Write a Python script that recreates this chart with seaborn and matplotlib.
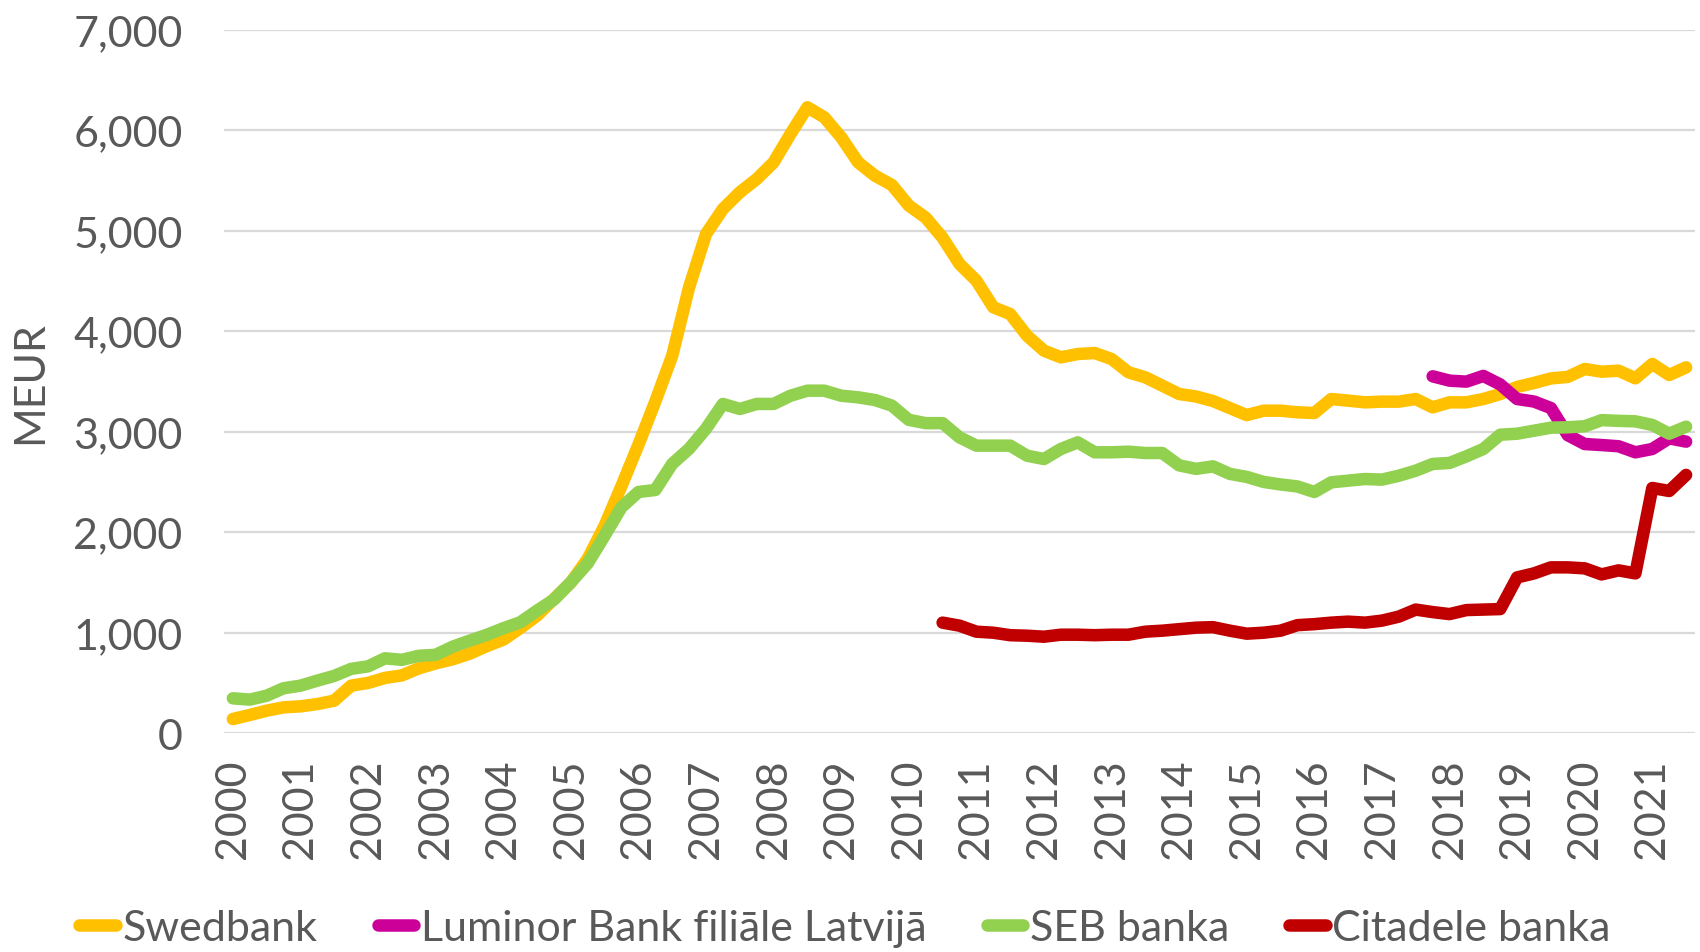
import numpy as np
import pandas as pd
import seaborn as sns
import matplotlib.pyplot as plt
from matplotlib.lines import Line2D
from matplotlib.ticker import FuncFormatter

# quarterly data, 2000Q1 .. 2021Q3 (MEUR)
years = ["2000", "2001", "2002", "2003", "2004", "2005", "2006", "2007", "2008", "2009", "2010",
         "2011", "2012", "2013", "2014", "2015", "2016", "2017", "2018", "2019", "2020", "2021"]

swedbank = [141, 181, 224, 257, 267, 290, 324, 473, 500, 550, 575, 645, 695, 735, 790, 865,
            930, 1045, 1170, 1335, 1500, 1735, 2065, 2460, 2870, 3300, 3756, 4437, 4967, 5216,
            5382, 5514, 5680, 5962, 6228, 6128, 5929, 5680, 5547, 5455, 5250, 5130, 4930, 4669,
            4503, 4238, 4171, 3955, 3806, 3740, 3773, 3783, 3723, 3591, 3541, 3458, 3375, 3350,
            3305, 3235, 3165, 3209, 3209, 3193, 3186, 3325, 3309, 3292, 3299, 3299, 3325, 3242,
            3292, 3292, 3325, 3375, 3445, 3485, 3530, 3545, 3624, 3597, 3607, 3531, 3674, 3564,
            3640]

seb = [347, 334, 373, 447, 473, 523, 570, 640, 665, 745, 730, 770, 780, 860, 920, 977,
       1044, 1103, 1219, 1329, 1501, 1690, 1965, 2248, 2400, 2420, 2680, 2830, 3030, 3276,
       3226, 3276, 3276, 3358, 3408, 3408, 3358, 3342, 3315, 3259, 3118, 3085, 3085, 2944,
       2861, 2861, 2861, 2761, 2728, 2828, 2894, 2795, 2795, 2801, 2788, 2788, 2665, 2630,
       2655, 2580, 2550, 2500, 2475, 2455, 2400, 2496, 2513, 2529, 2523, 2562, 2612, 2679,
       2689, 2755, 2828, 2970, 2980, 3010, 3040, 3044, 3054, 3115, 3108, 3103, 3067, 2980,
       3050]

# Luminor starts 2017Q4, Citadele starts 2010Q3
luminor_start = 71
luminor = [3551, 3508, 3498, 3555, 3470, 3325, 3300, 3235, 2965, 2877, 2867, 2855, 2795,
           2828, 2934, 2901]

citadele_start = 42
citadele = [1100, 1070, 1010, 1000, 975, 970, 960, 980, 980, 975, 980, 980, 1010, 1020,
            1035, 1050, 1055, 1020, 990, 1000, 1020, 1075, 1085, 1100, 1110, 1100, 1120, 1160,
            1230, 1205, 1185, 1225, 1230, 1235, 1550, 1590, 1650, 1650, 1640, 1580, 1620, 1590,
            2440, 2410, 2570]

names = ["Swedbank", "Luminor Bank filiāle Latvijā", "SEB banka", "Citadele banka"]
colors = ["#FFC000", "#CC0099", "#92D050", "#C00000"]

frames = []
for name, vals, start in [(names[0], swedbank, 0), (names[1], luminor, luminor_start),
                          (names[2], seb, 0), (names[3], citadele, citadele_start)]:
    frames.append(pd.DataFrame({"pos": np.arange(start, start + len(vals)),
                                "value": vals, "bank": name}))
df = pd.concat(frames, ignore_index=True)

sns.set_theme(style="white")
plt.rcParams["font.family"] = ["Lato", "DejaVu Sans"]

text_color = "#595959"
fs = 31
lw = 9

fig = plt.figure(figsize=(17, 9.53), dpi=100)
ax = fig.add_axes([0.132, 0.2296, 0.8648, 0.7382])

palette = dict(zip(names, colors))
sns.lineplot(data=df, x="pos", y="value", hue="bank", palette=palette, hue_order=names,
             linewidth=lw, ax=ax, legend=False, sort=False)
for line in ax.get_lines():
    line.set_solid_capstyle("round")
    line.set_solid_joinstyle("round")

ax.set_xlim(-0.5, 86.5)
ax.set_ylim(0, 7000)
ax.set_yticks(range(0, 7001, 1000))
ax.yaxis.set_major_formatter(FuncFormatter(lambda v, p: f"{int(v):,}"))
ax.set_xticks(range(0, 85, 4))
ax.set_xticklabels(years, rotation=90)
ax.tick_params(axis="both", labelsize=fs, labelcolor=text_color, length=0)
ax.tick_params(axis="y", pad=30)
ax.tick_params(axis="x", pad=18)

ax.grid(axis="y", color="#D9D9D9", linewidth=1.6)
ax.set_axisbelow(True)
for s in ax.spines.values():
    s.set_visible(False)

ax.set_xlabel("")
ax.set_ylabel("MEUR", fontsize=fs, color=text_color)
ax.yaxis.set_label_coords(-0.119, 0.5)

handles = [Line2D([0], [0], color=c, linewidth=lw, solid_capstyle="round") for c in colors]
fig.legend(handles, names, loc="center", bbox_to_anchor=(0.497, 0.025), ncol=4,
           frameon=False, fontsize=fs, handlelength=0.85, handletextpad=0.15,
           columnspacing=1.4, labelcolor=text_color)

fig.savefig("out.png", dpi=100)
